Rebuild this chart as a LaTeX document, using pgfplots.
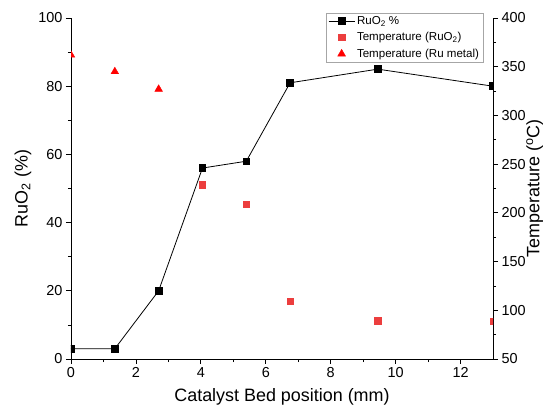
\documentclass[border=0pt]{standalone}
\usepackage{pgfplots}
\pgfplotsset{compat=1.18}
\usepackage{fontspec}
\setmainfont{Liberation Sans}

\definecolor{sqred}{RGB}{236,62,62}
\definecolor{trired}{RGB}{255,0,0}

\pgfplotsset{
  common/.style={
    width=422bp, height=341bp, scale only axis,
    at={(0,0)}, anchor=south west,
    xmin=0, xmax=13,
    tick align=outside,
    major tick length=5bp, minor tick length=3bp,
    every tick/.style={black, line width=0.8pt},
    axis line style={-, line width=0.9pt},
    tick label style={font=\fontsize{14.5}{16}\selectfont},
    label style={font=\fontsize{18}{20}\selectfont},
    /pgf/number format/assume math mode=true,
    clip marker paths=true,
  },
  markonly legend/.style={
    legend image code/.code={\draw[##1] plot coordinates {(13bp,0bp)};}},
  linemark legend/.style={
    legend image code/.code={
      \draw[mark repeat=2, mark phase=2, ##1]
        plot coordinates {(0bp,0bp) (13bp,0bp) (26bp,0bp)};}},
}

\begin{document}
\begin{tikzpicture}
\path[use as bounding box] (-71bp,-54bp) rectangle (476bp,359bp);

% RuO2 fraction along the bed (left axis)
\begin{axis}[common,
  axis x line*=bottom, axis y line*=left,
  ymin=0, ymax=100,
  xtick={0,2,...,12}, minor x tick num=1,
  ytick={0,20,...,100}, minor y tick num=1,
  xlabel={Catalyst Bed position (mm)},
  ylabel={RuO\textsubscript{2} (\%)},
  xlabel style={at={(axis description cs:0.5,-0.111)}, anchor=center},
  ylabel style={at={(axis description cs:-0.114,0.5)}, anchor=center},
]
\addplot[black, line width=0.8pt, mark=square*, mark size=3.3bp,
  mark options={solid, fill=black}]
  coordinates {(0,3) (1.35,3) (2.7,20) (4.05,56) (5.4,58) (6.75,81) (9.45,85) (13,80)};
\end{axis}

% Temperatures (right axis)
\begin{axis}[common,
  axis x line=none, axis y line*=right,
  ymin=50, ymax=400,
  ytick={50,100,...,400}, minor y tick num=1,
  ylabel={Temperature (\textsuperscript{o}C)},
  ylabel style={at={(axis description cs:1.127,0.5)}, anchor=south},
  legend style={at={(0.977,1.016)}, anchor=north east,
    draw=gray!70, line width=0.5pt,
    font=\fontsize{11.6}{13}\selectfont,
    inner xsep=2bp, inner ysep=1.5bp, row sep=2.6bp,
    cells={anchor=west}},
]
\addlegendimage{black, line width=0.8pt, mark=square*, mark size=3.3bp,
  mark options={solid, fill=black}, linemark legend}
\addlegendentry{RuO\textsubscript{2} \%}
\addplot[only marks, mark=square*, mark size=3.2bp, color=sqred, markonly legend]
  coordinates {(4.05,229) (5.4,209) (6.75,109.5) (9.45,89.3) (13,89)};
\addlegendentry{Temperature (RuO\textsubscript{2})}
\addplot[only marks, mark=triangle*, mark size=4.4bp, color=trired, markonly legend]
  coordinates {(0,362) (1.35,345) (2.7,327)};
\addlegendentry{Temperature (Ru metal)}
\end{axis}
\end{tikzpicture}
\end{document}
